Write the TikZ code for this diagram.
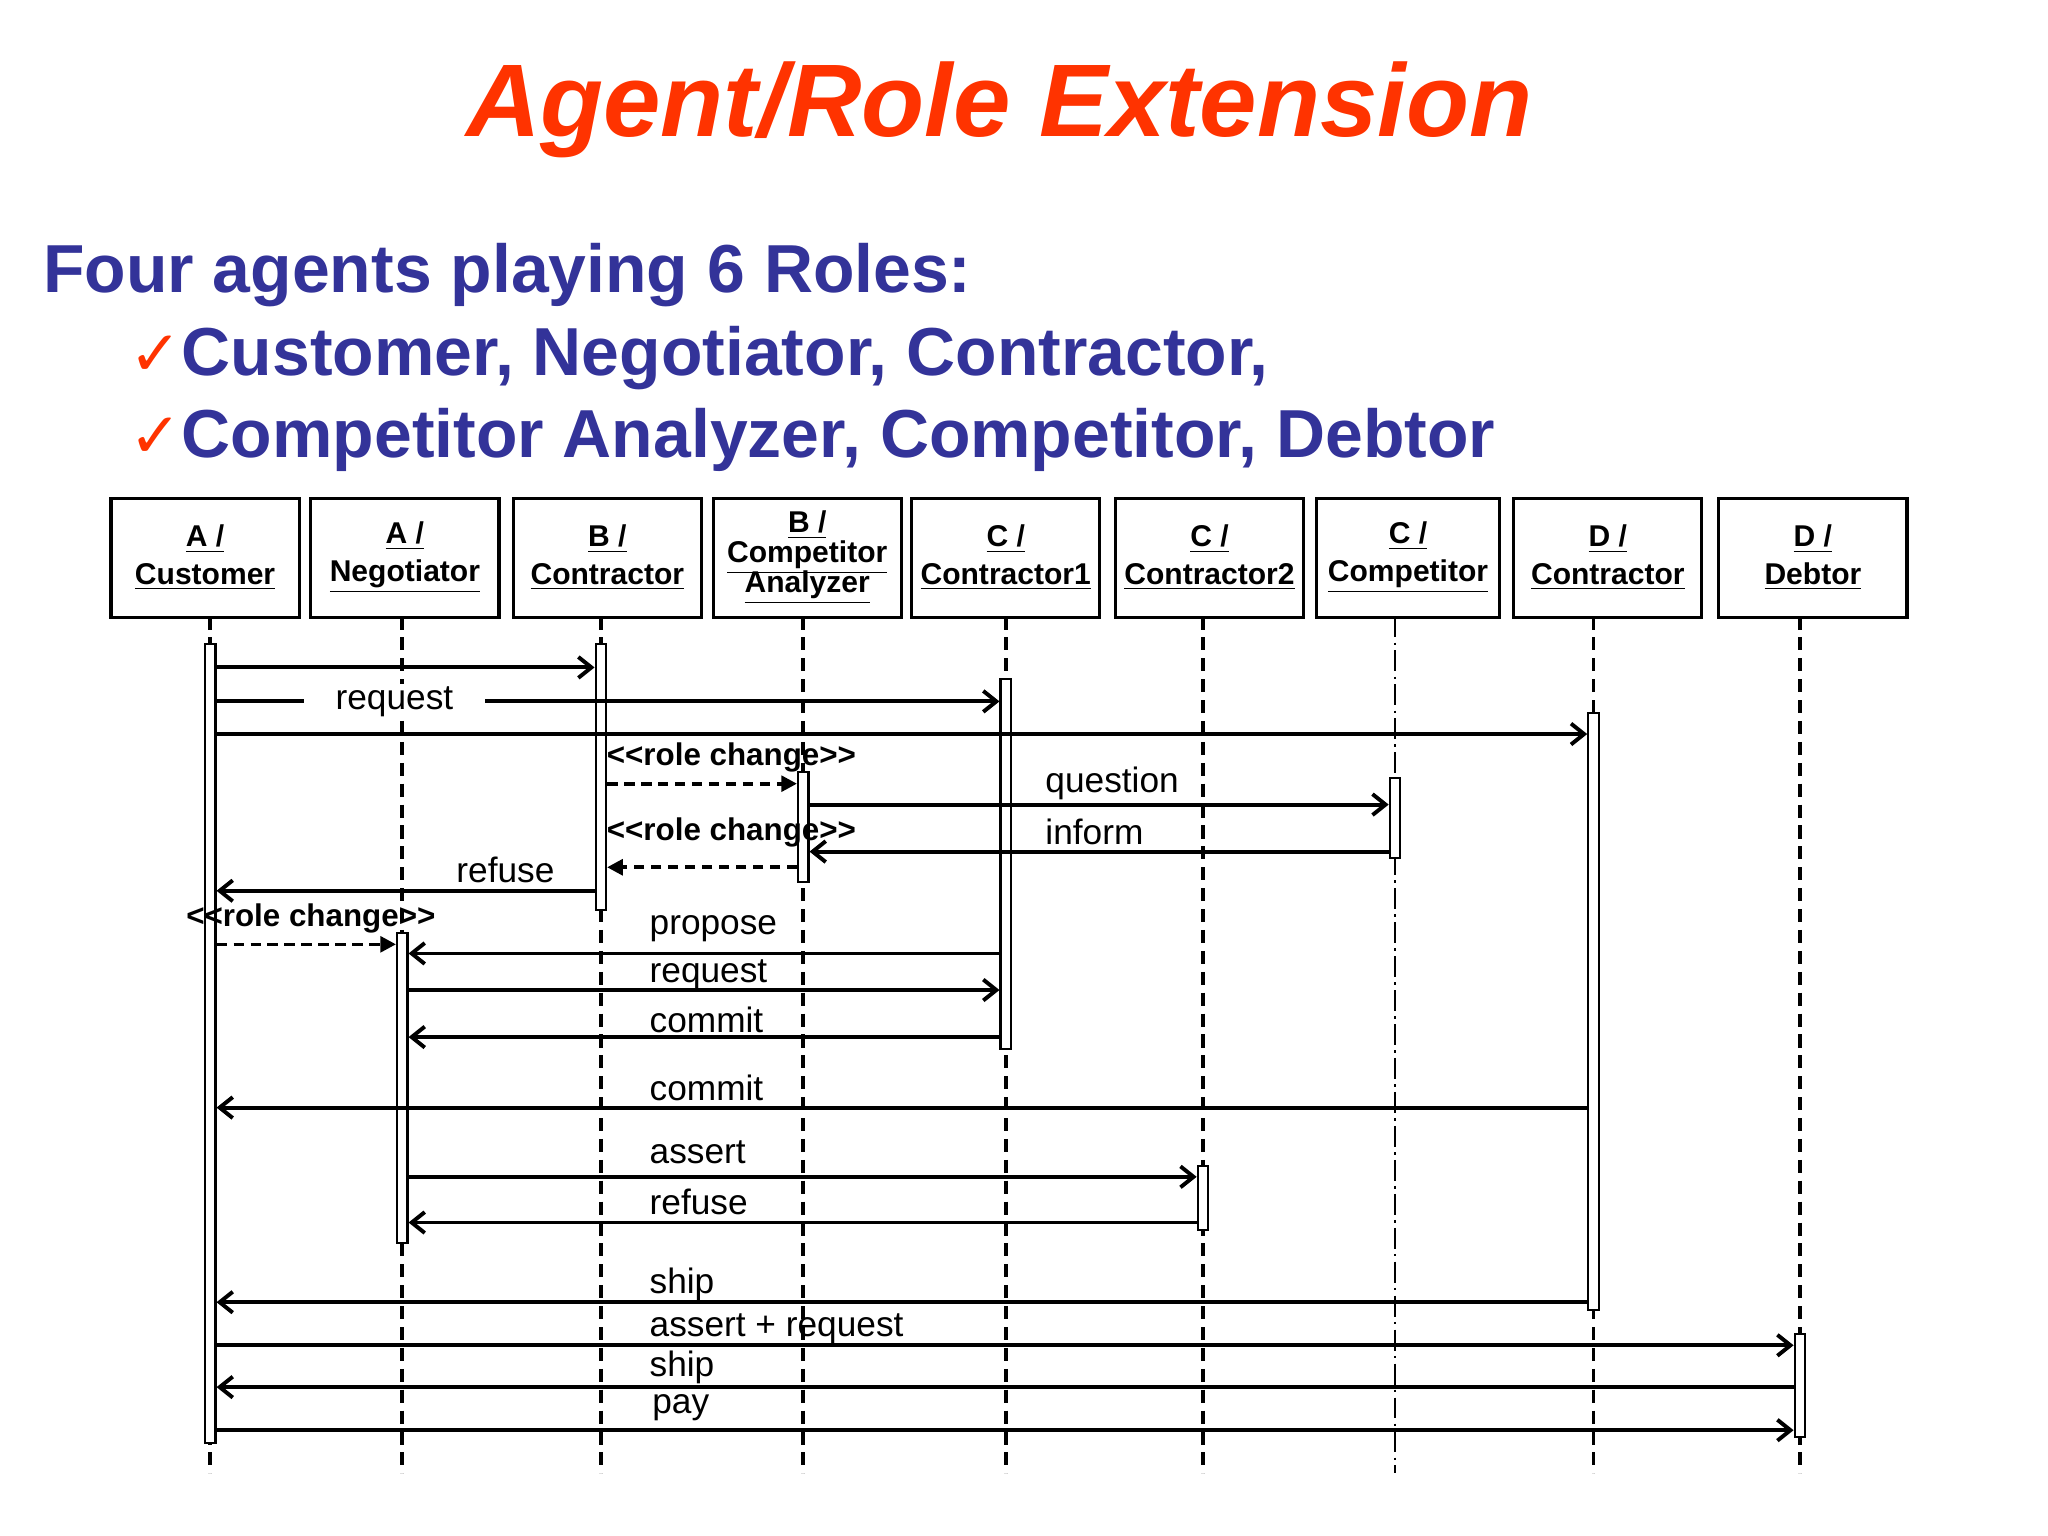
\documentclass[tikz,border=0pt]{standalone}
\usepackage{fontspec}
\setmainfont{Liberation Sans}
\newfontfamily\dejavu{DejaVu Sans}
\usetikzlibrary{arrows.meta}
\definecolor{ttl}{HTML}{FF3300}
\definecolor{sub}{HTML}{333399}
\tikzset{
 hbox/.style={draw,line width=1.2pt,minimum width=72pt,minimum height=45.5pt,inner sep=1pt,align=center,font=\fontsize{11.5}{14.5}\selectfont\bfseries},
 life/.style={line width=1.5pt,dash pattern=on 5pt off 3pt},
 act/.style={draw,fill=white,line width=0.8pt,minimum width=4pt,inner sep=0pt},
 msg/.style={line width=1.5pt,-{Straight Barb[length=5pt,width=8pt,line width=1.5pt]}},
 rc/.style={line width=1.4pt,dash pattern=on 4pt off 2.5pt,-{Triangle[length=6pt,width=6pt]}},
 lab/.style={font=\fontsize{13.5}{15}\selectfont,inner sep=1pt},
 rcl/.style={inner sep=1pt,font=\fontsize{12}{13}\selectfont\bfseries},
 subt/.style={anchor=west,font=\fontsize{26}{30}\selectfont\bfseries,text=sub},
}
\newcommand{\actv}[4]{\node[act,minimum height={(#4-#3)*0.5pt}] (#1) at (#2,{(#3+#4)/2}) {};}
\begin{document}
\begin{tikzpicture}[x=0.5pt,y=-0.5pt]
\useasboundingbox (0,0) rectangle (1568,1176);
\node[font=\fontsize{39.5}{44}\selectfont\bfseries\itshape,text=ttl] (title) at (765,84) {Agent/Role Extension};
\node[subt] (s1) at (26,211) {Four agents playing 6 Roles:};
\node[subt] (s2) at (92,274) {{\dejavu\mdseries\color{ttl}\fontsize{24}{28}\selectfont✓}Customer, Negotiator, Contractor,};
\node[subt] (s3) at (92,337) {{\dejavu\mdseries\color{ttl}\fontsize{24}{28}\selectfont✓}Competitor Analyzer, Competitor, Debtor};
% header boxes
\node[hbox] (h1) at (157,427) {\underline{A /}\\\underline{Customer}};
\node[hbox] (h2) at (310,427) {\underline{A /}\\\underline{Negotiator}};
\node[hbox] (h3) at (465,427) {\underline{B /}\\\underline{Contractor}};
\node[hbox] (h4) at (618,427) {\underline{B /}\\[-3pt]\underline{Competitor}\\[-3pt]\underline{Analyzer}};
\node[hbox] (h5) at (770,427) {\underline{C /}\\\underline{Contractor1}};
\node[hbox] (h6) at (926,427) {\underline{C /}\\\underline{Contractor2}};
\node[hbox,minimum width=70pt] (h7) at (1078,427) {\underline{C /}\\\underline{Competitor}};
\node[hbox] (h8) at (1231,427) {\underline{D /}\\\underline{Contractor}};
\node[hbox] (h9) at (1388,427) {\underline{D /}\\\underline{Debtor}};
% lifelines
\foreach \h/\x in {h1/161,h2/308,h3/460,h4/615,h5/770,h6/921,h8/1220,h9/1378}
  \draw[life] (\x,472) coordinate (\h t) -- (\x,1128) coordinate (\h b);
\draw[line width=0.8pt,dash pattern=on 8pt off 2pt on 1pt off 2pt] (1068,472) coordinate (h7t) -- (1068,1128) coordinate (h7b);
% activations
\actv{aA}{161}{493}{1105}
\actv{aB}{460}{493}{697}
\actv{aC}{770}{520}{803}
\actv{aD}{1220}{546}{1003}
\actv{aCA}{615}{591}{675}
\actv{aCo}{1068}{596}{657}
\actv{aN}{308}{714}{952}
\actv{aC2}{921}{893}{942}
\actv{aDe}{1378}{1021}{1100}
% messages
\draw[msg] (aA.east |- 0,511) -- (aB.west |- 0,511);
\draw[msg] (aA.east |- 0,537) -- (aC.west |- 0,537);
\node[lab,fill=white,inner xsep=12pt] (l2) at (302,537) {request};
\draw[msg] (aA.east |- 0,562) -- (aD.west |- 0,562);
\draw[rc] (aB.east |- 0,600) -- (aCA.west |- 0,600);
\node[rcl] (l4) at (560,580) {<{}<role change>{}>};
\draw[msg] (aCA.east |- 0,616) -- (aCo.west |- 0,616);
\node[lab,anchor=west] (l5) at (798,600) {question};
\draw[msg] (aCo.west |- 0,652) -- (aCA.east |- 0,652);
\node[lab,anchor=west] (l6) at (798,637) {inform};
\draw[rc] (aCA.west |- 0,664) -- (aB.east |- 0,664);
\node[rcl] (l7) at (560,637) {<{}<role change>{}>};
\draw[msg] (aB.west |- 0,682) -- (aA.east |- 0,682);
\node[lab] (l8) at (387,666) {refuse};
\draw[rc] (aA.east |- 0,723) -- (aN.west |- 0,723);
\node[rcl] (l9) at (238,703) {<{}<role change>{}>};
\draw[msg] (aC.west |- 0,730) -- (aN.east |- 0,730);
\node[lab,anchor=west] (l10) at (495,711) {propose};
\draw[msg] (aN.east |- 0,758) -- (aC.west |- 0,758);
\node[lab,anchor=west] (l11) at (495,746) {request};
\draw[msg] (aC.west |- 0,794) -- (aN.east |- 0,794);
\node[lab,anchor=west] (l12) at (495,781) {commit};
\draw[msg] (aD.west |- 0,848) -- (aA.east |- 0,848);
\node[lab,anchor=west] (l13) at (495,833) {commit};
\draw[msg] (aN.east |- 0,901) -- (aC2.west |- 0,901);
\node[lab,anchor=west] (l14) at (495,882) {assert};
\draw[msg] (aC2.west |- 0,936) -- (aN.east |- 0,936);
\node[lab,anchor=west] (l15) at (495,920) {refuse};
\draw[msg] (aD.west |- 0,997) -- (aA.east |- 0,997);
\node[lab,anchor=west] (l16) at (495,983) {ship};
\draw[msg] (aA.east |- 0,1030) -- (aDe.west |- 0,1030);
\node[lab,anchor=west] (l17) at (495,1017) {assert + request};
\draw[msg] (aDe.west |- 0,1062) -- (aA.east |- 0,1062);
\node[lab,anchor=west] (l18) at (495,1047) {ship};
\draw[msg] (aA.east |- 0,1095) -- (aDe.west |- 0,1095);
\node[lab,anchor=west] (l19) at (497,1078) {pay};
\end{tikzpicture}
\end{document}
